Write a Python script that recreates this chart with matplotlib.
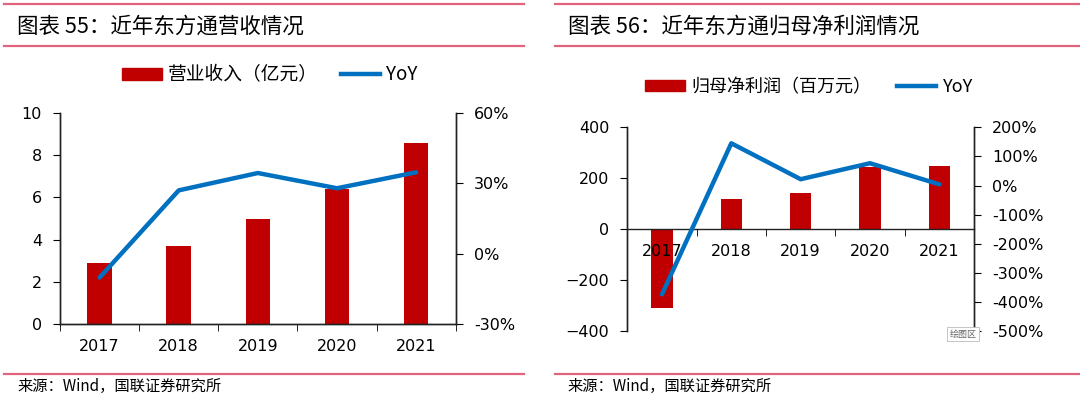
import numpy as np
import matplotlib.pyplot as plt
from matplotlib.patches import Patch
from matplotlib.lines import Line2D

plt.rcParams['font.family'] = ['DejaVu Sans', 'Noto Sans CJK SC']

# data
years = ['2017', '2018', '2019', '2020', '2021']
revenue = [2.9, 3.7, 5.0, 6.4, 8.6]            # 营业收入（亿元）
revenue_yoy = [-10.2, 27.0, 34.4, 27.9, 34.7]  # %
profit = [-309, 120, 141, 245, 247]           # 归母净利润（百万元）
profit_yoy = [-374, 145, 21.6, 76.5, 4.0]     # %

RED = '#C00000'
BLUE = '#0070C0'
PINK = '#E0647E'
CJK = ['Noto Sans CJK SC', 'DejaVu Sans']

W, H = 1080, 399
fig = plt.figure(figsize=(W / 100, H / 100), dpi=100)


def fx(px):
    return px / W


def fy(py):
    return 1 - py / H


def hline(y, x0, x1):
    fig.add_artist(Line2D([fx(x0), fx(x1)], [fy(y), fy(y)], color=PINK, lw=1.6))


# header / footer rules and titles
for x0, x1 in [(4, 524), (555, 1080)]:
    hline(4, x0, x1)
    hline(46, x0, x1)
    hline(374, x0, x1)
fig.text(fx(17), fy(27), '图表 55：近年东方通营收情况', family=CJK, fontsize=15.5,
         va='center', ha='left')
fig.text(fx(568), fy(27), '图表 56：近年东方通归母净利润情况', family=CJK, fontsize=15.5,
         va='center', ha='left')
fig.text(fx(17), fy(386), '来源：Wind，国联证券研究所', family=CJK, fontsize=11,
         va='center', ha='left')
fig.text(fx(567), fy(386), '来源：Wind，国联证券研究所', family=CJK, fontsize=11,
         va='center', ha='left')

x = np.arange(len(years))


def style_axes(ax, ax2):
    for a in (ax, ax2):
        a.spines['top'].set_visible(False)
        for s in a.spines.values():
            s.set_linewidth(1.0)
            s.set_color('#222222')
    ax.set_axisbelow(False)
    ax.set_xlim(-0.5, len(years) - 0.5)
    ax.set_xticks(x)
    ax.set_xticklabels(years)
    ax.set_xticks(np.arange(-0.5, len(years)), minor=True)
    ax.tick_params(axis='x', which='major', length=0, pad=11, labelsize=11.5)
    ax.tick_params(axis='x', which='minor', length=5, direction='out')
    ax.tick_params(axis='y', length=5, direction='out', pad=8, labelsize=11.5)
    ax2.tick_params(axis='y', length=5, direction='out', pad=8, labelsize=11.5)
    ax.patch.set_visible(False)


def pct(v, pos):
    return f'{v:.0f}%'


# ---- left chart: revenue ----
ax = fig.add_axes([fx(60), fy(324), fx(455.7 - 60), (324 - 113) / H])
ax2 = ax.twinx()
ax.bar(x, revenue, width=0.31, color=RED, zorder=1)
ax2.plot(x, revenue_yoy, color=BLUE, lw=3.2, solid_capstyle='round')
ax.set_ylim(0, 10)
ax.set_yticks(range(0, 11, 2))
ax2.set_ylim(-30, 60)
ax2.set_yticks([-30, 0, 30, 60])
ax2.yaxis.set_major_formatter(pct)
style_axes(ax, ax2)

handles = [Patch(color=RED), Line2D([], [], color=BLUE, lw=3.2)]
fig.legend(handles, ['营业收入（亿元）', 'YoY'], loc='center', ncol=2,
           bbox_to_anchor=(fx(270), fy(75)), frameon=False, prop={'family': CJK, 'size': 13.5},
           handlelength=2.1, handleheight=0.55, handletextpad=0.35, columnspacing=1.2)

# ---- right chart: net profit ----
bx = fig.add_axes([fx(627.3), fy(331), fx(974 - 627.3), (331 - 127.3) / H])
bx2 = bx.twinx()
bx.bar(x, profit, width=0.31, color=RED, zorder=1)
bx2.plot(x, profit_yoy, color=BLUE, lw=3.2, solid_capstyle='round')
bx.set_ylim(-400, 400)
bx.set_yticks(range(-400, 401, 200))
bx2.set_ylim(-500, 200)
bx2.set_yticks(range(-500, 201, 100))
bx2.yaxis.set_major_formatter(pct)
style_axes(bx, bx2)
bx.spines['bottom'].set_position(('data', 0))
bx2.spines['bottom'].set_visible(False)

fig.legend(handles, ['归母净利润（百万元）', 'YoY'], loc='center', ncol=2,
           bbox_to_anchor=(fx(809), fy(87)), frameon=False, prop={'family': CJK, 'size': 13},
           handlelength=2.2, handleheight=0.55, handletextpad=0.35, columnspacing=1.4)

fig.text(fx(963), fy(334), '绘图区', family=CJK, fontsize=6.5, color='#666666',
         ha='center', va='center',
         bbox=dict(boxstyle='square,pad=0.25', fc='white', ec='#BBBBBB', lw=0.6))

fig.savefig('out.png', dpi=100)
